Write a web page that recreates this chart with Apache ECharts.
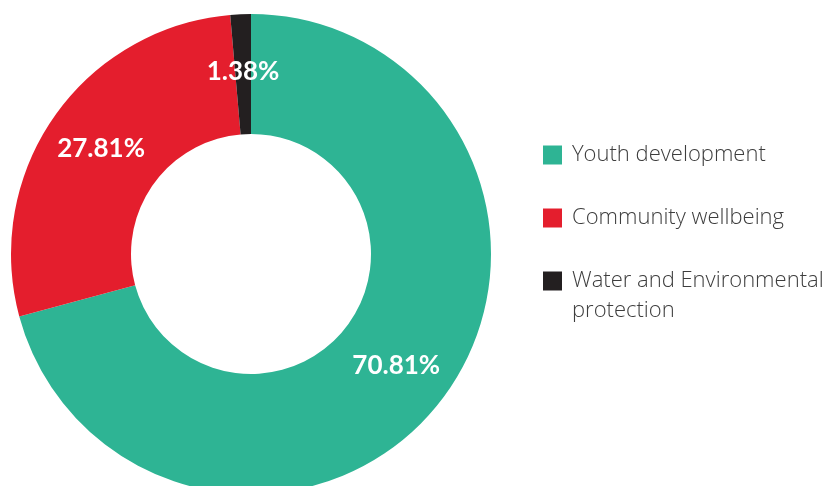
<!DOCTYPE html>
<html>
<head>
<meta charset="utf-8">
<script src="https://cdn.jsdelivr.net/npm/echarts@6/dist/echarts.min.js"></script>
<style>
  html, body { margin: 0; padding: 0; background: #fff; }
  #chart { width: 827px; height: 486px; }
</style>
</head>
<body>
<div id="chart"></div>
<script>
var categories = ['Youth development', 'Community wellbeing', 'Water and Environmental\nprotection'];
var values = [70.81, 27.81, 1.38];
var colors = ['#2eb494', '#e41e2d', '#231f20'];

var chart = echarts.init(document.getElementById('chart'));

var data = categories.map(function (name, i) {
    return { name: name, value: values[i], itemStyle: { color: colors[i] } };
});

var option = {
    animation: false,
    legend: {
        orient: 'vertical',
        left: 538,
        top: 109,
        itemWidth: 19,
        itemHeight: 19,
        itemGap: -19,
        icon: 'rect',
        selectedMode: false,
        // every item is 3 lines high, the first line left blank,
        // so the icon sits on the first line of text
        formatter: function (name) {
            var lines = name.split('\n');
            while (lines.length < 2) lines.push(' ');
            return ['{t| }'].concat(lines.map(function (l) {
                return '{t|' + l + '}';
            })).join('\n');
        },
        textStyle: {
            rich: {
                t: {
                    fontFamily: 'Open Sans',
                    fontWeight: 300,
                    fontSize: 22,
                    color: '#3d3d3d',
                    lineHeight: 30,
                    padding: [0, 0, 0, 5]
                }
            }
        },
        data: categories
    },
    series: [{
        type: 'pie',
        center: [251, 254],
        radius: [120, 240],
        startAngle: 90,
        clockwise: true,
        avoidLabelOverlap: false,
        label: {
            show: true,
            position: 'inside',
            formatter: function (p) { return p.value.toFixed(2) + '%'; },
            color: '#fff',
            fontFamily: 'Lato',
            fontWeight: 'bold',
            fontSize: 26
        },
        labelLine: { show: false },
        emphasis: { disabled: true },
        data: data
    }]
};

chart.setOption(option);
</script>
</body>
</html>
